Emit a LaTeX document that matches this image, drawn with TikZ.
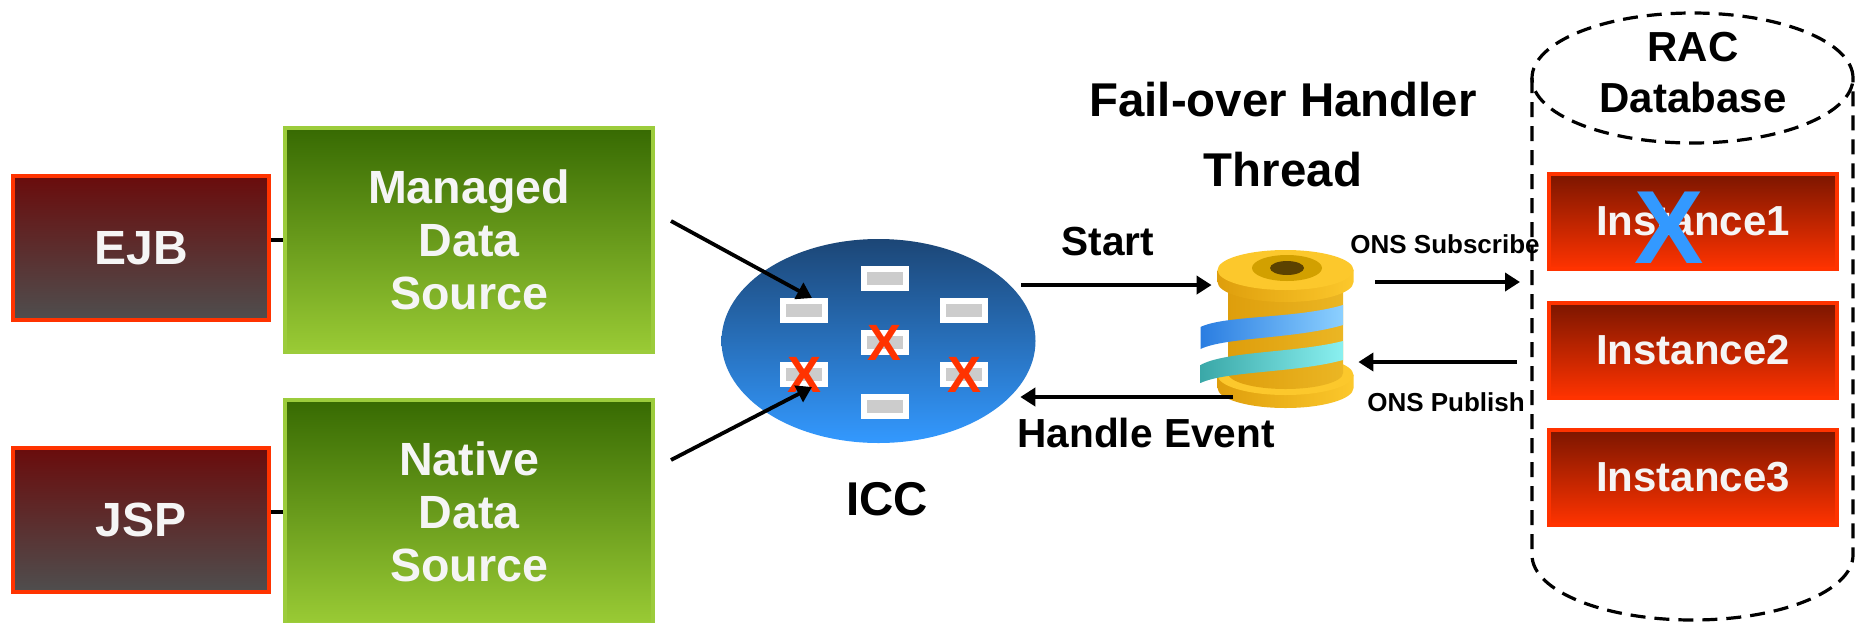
\documentclass[tikz,border=0pt]{standalone}
\usepackage{fontspec}
\setmainfont{Liberation Sans}
\usetikzlibrary{positioning,arrows.meta,shapes.geometric}

\definecolor{edgered}{HTML}{FF3300}
\definecolor{beantop}{HTML}{6A0C0C}
\definecolor{beanbot}{HTML}{4E4E4E}
\definecolor{dstop}{HTML}{376A02}
\definecolor{dsbot}{HTML}{9ACB35}
\definecolor{dsedge}{HTML}{9CCC3C}
\definecolor{insttop}{HTML}{7C1600}
\definecolor{icctop}{HTML}{1C4676}
\definecolor{iccbot}{HTML}{3399FF}
\definecolor{slotgray}{HTML}{CCCCCC}
\definecolor{chalk}{HTML}{F5F5F5}
\definecolor{gold}{HTML}{FCC82C}
\definecolor{golddark}{HTML}{DE9E0C}
\definecolor{goldlight}{HTML}{FFE45C}
\definecolor{goldedge}{HTML}{EBB624}
\definecolor{holering}{HTML}{D2A000}
\definecolor{holecore}{HTML}{5C4200}
\definecolor{ribbonblue}{HTML}{2A7DE1}
\definecolor{ribbonsky}{HTML}{8CD0FF}
\definecolor{ribbonteal}{HTML}{3AA8A8}
\definecolor{ribbonaqua}{HTML}{8AF0F0}

\begin{document}
\begin{tikzpicture}[
	x=0.5pt, y=0.5pt,
	component/.style={draw=edgered, line width=2pt, top color=beantop, bottom color=beanbot,
		text=chalk, minimum width=128pt, minimum height=72pt, inner sep=0pt,
		font=\bfseries\fontsize{24}{28}\selectfont},
	datasource/.style={draw=dsedge, line width=2pt, top color=dstop, bottom color=dsbot,
		text=chalk, minimum width=184pt, minimum height=112pt, inner sep=0pt, align=center,
		font=\bfseries\fontsize{23.3}{26.5}\selectfont},
	instance/.style={draw=edgered, line width=2pt, top color=insttop, bottom color=edgered,
		text=chalk, minimum width=144pt, minimum height=47.5pt, inner sep=0pt,
		font=\bfseries\fontsize{21}{25}\selectfont},
	slot/.style={draw=white, line width=3pt, fill=slotgray, minimum width=21pt,
		minimum height=9.5pt, inner sep=0pt},
	cross/.style={text=edgered, inner sep=0pt, font=\bfseries\fontsize{25.5}{30}\selectfont},
	heading/.style={align=center, inner sep=0pt, font=\bfseries\fontsize{23.7}{35}\selectfont},
	midtext/.style={inner sep=0pt, font=\bfseries\fontsize{20.3}{24}\selectfont},
	smalltext/.style={inner sep=0pt, font=\bfseries\fontsize{13}{15}\selectfont},
	flow/.style={-{Triangle[length=7.5pt,width=9pt]}, line width=1.9pt},
	link/.style={line width=1.7pt},
	dbline/.style={line width=1.6pt, dash pattern=on 7.5pt off 4.5pt}
]
	\path[use as bounding box, fill=white] (0,0) rectangle (1864,-622);

	% clients and their data sources
	\node[component] (ejb) at (141,-248) {EJB};
	\node[component, below=62pt of ejb] (jsp) {JSP};
	\node[datasource] (managed) at (469,-240) {Managed\\Data\\Source};
	\node[datasource, below=22pt of managed] (native) {Native\\Data\\Source};
	\draw[link] (managed.west) -- (managed.west -| ejb.east);
	\draw[link] (native.west) -- (native.west -| jsp.east);

	% connection cache
	\node[ellipse, top color=icctop, bottom color=iccbot, minimum width=157pt,
		minimum height=102pt, inner sep=0pt] (icc) at (878.5,-341) {};
	\node[slot] (slot1) at (884.5,-278.5) {};
	\node[slot] (slot2) at (804,-310.5) {};
	\node[slot] (slot3) at (964,-310.5) {};
	\node[slot] (slot4) at (884.5,-342.5) {};
	\node[slot] (slot5) at (804,-374.5) {};
	\node[slot] (slot6) at (964,-374.5) {};
	\node[slot] (slot7) at (884.5,-406) {};
	\node[cross] at (slot4) {X};
	\node[cross] at (slot5) {X};
	\node[cross] at (slot6) {X};
	\node[heading] (icclabel) at (887,-499.5) {ICC};

	\draw[flow] ([shift={(16,19)}]managed.east) -- ([xshift=4pt]slot2.north);
	\draw[flow] ([shift={(16,52)}]native.east) -- ([xshift=4pt]slot5.south);

	% handler thread spool
	\node[minimum width=68.5pt, minimum height=79pt, inner sep=0pt] (spool) at (1285.5,-331) {};
	\begin{scope}[shift={(spool.center)}]
		\shade[left color=golddark, right color=gold] (-68,-44) -- (-68,-57)
			arc[start angle=180, end angle=360, x radius=68, y radius=20] -- (68,-44) -- cycle;
		\fill[gold] (0,-44) ellipse[x radius=68, y radius=20];
		\shade[left color=golddark, middle color=goldlight, right color=goldedge]
			(-57.5,55) -- (-57.5,-42)
			arc[start angle=180, end angle=360, x radius=57.5, y radius=16] -- (57.5,55) -- cycle;
		\shade[left color=ribbonblue, right color=ribbonsky]
			(-85,4) .. controls (-60,16) and (10,12) .. (57.5,26) -- (57.5,6)
			.. controls (10,-8) and (-60,-6) .. (-85,-18) -- cycle;
		\shade[left color=ribbonteal, right color=ribbonaqua]
			(-85,-34) .. controls (-60,-20) and (10,-22) .. (57.5,-10) -- (57.5,-29)
			.. controls (10,-42) and (-60,-40) .. (-85,-52) -- cycle;
		\shade[left color=golddark, right color=gold] (-68,61) -- (-68,49)
			arc[start angle=180, end angle=360, x radius=68, y radius=20] -- (68,61) -- cycle;
		\fill[gold] (0,61) ellipse[x radius=68, y radius=20];
		\fill[holering] (1.5,63) ellipse[x radius=35, y radius=13];
		\fill[holecore] (1.5,63) ellipse[x radius=17, y radius=7];
	\end{scope}
	\node[heading] (handler) at (1283,-135) {Fail-over Handler\\Thread};

	\node[midtext] (startlbl) at (1108,-241.5) {Start};
	\node[midtext] (eventlbl) at (1146,-432.5) {Handle Event};
	\draw[flow, shorten <=5.5pt, shorten >=2.5pt] (icc.23) -- (icc.23 -| spool.west);
	\coordinate (evt) at ([shift={(-52.5,-66)}]spool.center);
	\draw[flow, shorten >=5pt] (evt) -- (evt -| icc.337);

	% RAC database with its instances
	\coordinate (dbnw) at (1532,-78);
	\draw[dbline] (dbnw) -- (1532,-555)
		arc[start angle=180, end angle=360, x radius=160.5, y radius=65] -- (1853,-78);
	\draw[dbline] (1692.5,-78) ellipse[x radius=160.5, y radius=65];
	\node[heading, font=\bfseries\fontsize{21}{25.5}\selectfont] (racdb) at (1693,-73) {RAC\\Database};
	\node[instance] (inst1) at (1693,-221.5) {Instance1};
	\node[instance, below=15pt of inst1] (inst2) {Instance2};
	\node[instance, below=14pt of inst2] (inst3) {Instance3};
	\node[text=iccbot, inner sep=0pt, font=\bfseries\fontsize{52}{60}\selectfont]
		at ([shift={(-24,-6.5)}]inst1.center) {X};

	\coordinate (sub) at ([shift={(21,49)}]spool.east);
	\coordinate (pub) at ([shift={(4,-31)}]spool.east);
	\draw[flow, shorten >=6pt] (sub) -- (sub -| dbnw);
	\draw[flow, shorten <=7.5pt] (pub -| dbnw) -- (pub);
	\node[smalltext] (sublbl) at (1445,-244) {ONS Subscribe};
	\node[smalltext] (publbl) at (1446,-402.5) {ONS Publish};
\end{tikzpicture}
\end{document}
